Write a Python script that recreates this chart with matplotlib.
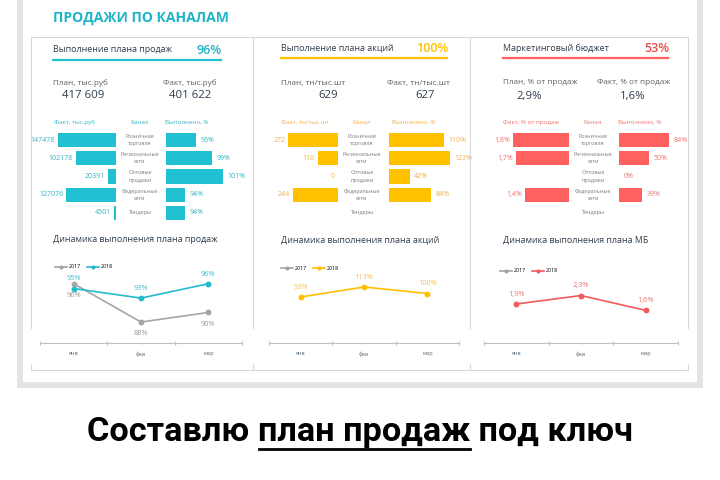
import numpy as np
import matplotlib
matplotlib.use("Agg")
import matplotlib.pyplot as plt
from matplotlib.lines import Line2D
from matplotlib.patches import Rectangle

plt.rcParams['font.family'] = ['Open Sans', 'DejaVu Sans']

# ---------------- data ----------------
channels = ["Розничная\nторговля", "Региональные\nсети", "Оптовые\nпродажи",
            "Федеральные\nсети", "Тендеры"]
months = ["янв", "фев", "мар"]
years = ["2017", "2018"]

panel_titles = ["Выполнение плана продаж", "Выполнение плана акций", "Маркетинговый бюджет"]
kpi_pct = [0.96, 1.00, 0.53]
plan_labels = ["План, тыс.руб", "План, тн/тыс.шт", "План, % от продаж"]
fact_labels = ["Факт, тыс.руб", "Факт, тн/тыс.шт", "Факт, % от продаж"]
plan_values = [417609, 629, 0.029]
fact_values = [401622, 627, 0.016]

sales_fact = [147478, 102178, 20391, 127076, 4501]
sales_done = [0.96, 0.99, 1.01, 0.94, 0.94]
promo_fact = [272, 110, 0, 244, np.nan]
promo_done = [1.10, 1.23, 0.42, 0.84, np.nan]
mkt_fact = [0.018, 0.017, np.nan, 0.014, np.nan]
mkt_done = [0.84, 0.50, 0.00, 0.39, np.nan]

line_titles = ["Динамика выполнения плана продаж", "Динамика выполнения плана акций",
               "Динамика выполнения плана МБ"]
sales_2017 = [96, 88, 90]
sales_2018 = [95, 93, 96]
promo_2017 = [np.nan, np.nan, np.nan]
promo_2018 = [93, 113, 100]
mkt_2017 = [np.nan, np.nan, np.nan]
mkt_2018 = [1.9, 2.3, 1.6]

caption_parts = ["Составлю ", "план продаж", " под ключ"]

# ---------------- helpers ----------------
W, H = 720, 480
fig = plt.figure(figsize=(7.2, 4.8), dpi=100)

def fx(x):
    return x / W

def fy(y):
    return 1 - y / H

def T(x, y, s, **kw):
    kw.setdefault('va', 'center')
    return fig.text(fx(x), fy(y), s, **kw)

def axpx(x0, y0, x1, y1):
    return fig.add_axes([fx(x0), fy(y1), (x1 - x0) / W, (y1 - y0) / H])

def hline(x0, x1, y, color, lw=0.8):
    fig.add_artist(Line2D([fx(x0), fx(x1)], [fy(y), fy(y)], color=color, lw=lw,
                          transform=fig.transFigure))

def vline(x, y0, y1, color, lw=0.8):
    fig.add_artist(Line2D([fx(x), fx(x)], [fy(y0), fy(y1)], color=color, lw=lw,
                          transform=fig.transFigure))

def fmt_pct(v, dec=0):
    s = f"{v * 100:.{dec}f}%"
    return s.replace('.', ',')

# ---------------- frame ----------------
fig.add_artist(Rectangle((fx(17), fy(388)), 686 / W, 388 / H, transform=fig.transFigure,
                         facecolor="#e4e4e4", edgecolor='none', zorder=-5))
fig.add_artist(Rectangle((fx(23), fy(382)), 674 / W, 382 / H, transform=fig.transFigure,
                         facecolor="white", edgecolor='none', zorder=-4))

border = "#d9d9d9"
hline(31, 688, 37, border)
for xb in [31, 253, 470, 688]:
    vline(xb, 37, 328, border)
    vline(xb, 364, 370, border)
hline(31, 688, 370, border)

T(53, 18, "ПРОДАЖИ ПО КАНАЛАМ", color="#1CB5C8", fontsize=10, fontweight='bold')

# ---------------- panels ----------------
teal, yellow, red = "#22C1D2", "#FFC000", "#FF6161"
main_cols = [teal, yellow, red]
kpi_cols = ["#1FB3C6", "#FFC000", "#EA4A4A"]
lbl_cols = ["#33B4C6", "#EEB04A", "#F07272"]
dark = "#2E3D4C"
gray_txt = "#5F5F5F"
chan_col = "#7A7A7A"

px0 = [53, 281, 503]
px1 = [221, 447, 668]
plan_cx = [83, 328, 529]
fact_cx = [190, 425, 633]
fact_lx = [163, 387, 597]
hdr_y = [50, 48, 48]
ul_y = [60, 58, 58]

for i in range(3):
    T(px0[i], hdr_y[i], panel_titles[i], color=dark, fontsize=6.4)
    T(px1[i] + 1, hdr_y[i], fmt_pct(kpi_pct[i]), color=kpi_cols[i], fontsize=9,
      fontweight='semibold', ha='right')
    hline(px0[i], px1[i], ul_y[i], main_cols[i], lw=1.6)
    T(px0[i], 83, plan_labels[i], color=gray_txt, fontsize=5.9)
    T(fact_lx[i], 83, fact_labels[i], color=gray_txt, fontsize=5.9)
    if i == 0:
        pv = f"{plan_values[i]:,}".replace(',', ' ')
        fv = f"{fact_values[i]:,}".replace(',', ' ')
    elif i == 1:
        pv, fv = str(plan_values[i]), str(fact_values[i])
    else:
        pv, fv = fmt_pct(plan_values[i], 1), fmt_pct(fact_values[i], 1)
    T(plan_cx[i], 96, pv, color=dark, fontsize=8.2, ha='center')
    T(fact_cx[i], 96, fv, color=dark, fontsize=8.2, ha='center')

hdr_fact_cx = [75, 305, 531]
hdr_chan_cx = [140, 362, 593]
hdr_done_cx = [187, 414, 640]
for i in range(3):
    T(hdr_fact_cx[i], 122, fact_labels[i], color=lbl_cols[i], fontsize=4.5, ha='center')
    T(hdr_chan_cx[i], 122, "Канал", color=lbl_cols[i], fontsize=4.5, ha='center')
    T(hdr_done_cx[i], 122, "Выполнено, %", color=lbl_cols[i], fontsize=4.5, ha='center')

row_top, row_bot = 131, 222
n = len(channels)
ypos = np.arange(n)

def bar_axes(x0, x1, xlim, invert):
    ax = axpx(x0, row_top, x1, row_bot)
    ax.set_ylim(n - 0.5, -0.5)
    if invert:
        ax.set_xlim(xlim[1], xlim[0])
    else:
        ax.set_xlim(*xlim)
    ax.axis('off')
    ax.patch.set_alpha(0)
    return ax

left_specs = [(30, 116, (0, 86 * 147478 / 58)),
              (262, 338, (0, 76 * 272 / 50)),
              (495, 569, (0, 74 * 0.018 / 56))]
right_specs = [(166, 246, (0.904, 0.904 + 80 / 540)),
               (389, 466, (0, 77 / 50)),
               (619, 687, (0, 68 / 60))]
facts = [sales_fact, promo_fact, mkt_fact]
dones = [sales_done, promo_done, mkt_done]

for i in range(3):
    axl = bar_axes(*left_specs[i][:2], left_specs[i][2], True)
    vals = np.array(facts[i], dtype=float)
    axl.barh(ypos, np.nan_to_num(vals), height=0.77, color=main_cols[i])
    for j, v in enumerate(vals):
        if np.isnan(v):
            continue
        s = fmt_pct(v, 1) if i == 2 else f"{int(v)}"
        axl.annotate(s, (v, j), xytext=(-2, 0), textcoords='offset points',
                     ha='right', va='center', fontsize=5, color=lbl_cols[i],
                     annotation_clip=False)
    axr = bar_axes(*right_specs[i][:2], right_specs[i][2], False)
    vals = np.array(dones[i], dtype=float)
    axr.barh(ypos, np.nan_to_num(vals), height=0.77, color=main_cols[i])
    for j, v in enumerate(vals):
        if np.isnan(v):
            continue
        axr.annotate(fmt_pct(v), (max(v, right_specs[i][2][0]), j), xytext=(3, 0),
                     textcoords='offset points', ha='left', va='center', fontsize=5,
                     color=lbl_cols[i], annotation_clip=False)
    for j, c in enumerate(channels):
        yy = row_top + (row_bot - row_top) * (j + 0.5) / n
        T(hdr_chan_cx[i], yy, c, color=chan_col, fontsize=3.9, ha='center',
          linespacing=1.5)

# ---------------- line charts ----------------
line_specs = [
    dict(x0=40, x1=242, v_a=93, y_a=298.1, k=4.79, title_x=53, leg=(55, 267)),
    dict(x0=269, x1=459, v_a=93, y_a=297, k=0.5, title_x=281, leg=(281, 268)),
    dict(x0=484, x1=678, v_a=1.933, y_a=303.3, k=21.2, title_x=503, leg=(500, 271)),
]
series17 = [sales_2017, promo_2017, mkt_2017]
series18 = [sales_2018, promo_2018, mkt_2018]
gray_line = "#A5A5A5"
line_cols = ["#22BCCD", "#FFC000", "#F05A5A"]
pt_lbl_cols = ["#44BACB", "#F0BE55", "#EE7070"]
ax_top, ax_bot = 255, 343

for i in range(3):
    sp = line_specs[i]
    T(sp['title_x'], 240, line_titles[i], color=dark, fontsize=6.4)
    ax = axpx(sp['x0'], ax_top, sp['x1'], ax_bot)
    ax.patch.set_alpha(0)
    vtop = sp['v_a'] + (sp['y_a'] - ax_top) / sp['k']
    vbot = sp['v_a'] - (ax_bot - sp['y_a']) / sp['k']
    ax.set_ylim(vbot, vtop)
    ax.set_xlim(-0.5, 2.5)
    xs = np.arange(3)
    h17, = ax.plot(xs, series17[i], color=gray_line, lw=1.2, marker='o', ms=3.2,
                   label=years[0], clip_on=False)
    h18, = ax.plot(xs, series18[i], color=line_cols[i], lw=1.2, marker='o', ms=3.2,
                   label=years[1], clip_on=False)
    for j, v in enumerate(series17[i]):
        if np.isnan(v):
            continue
        ax.annotate(f"{v:g}%", (j, v), xytext=(0, -8.5), textcoords='offset points',
                    ha='center', va='center', fontsize=5.3, color="#9A9A9A",
                    annotation_clip=False)
    for j, v in enumerate(series18[i]):
        if np.isnan(v):
            continue
        s = (f"{v:.1f}%".replace('.', ',') if i == 2 else f"{v:g}%")
        ax.annotate(s, (j, v), xytext=(0, 7), textcoords='offset points',
                    ha='center', va='center', fontsize=5.3, color=pt_lbl_cols[i],
                    annotation_clip=False)
    for s in ['top', 'right', 'left']:
        ax.spines[s].set_visible(False)
    ax.spines['bottom'].set_color("#BFBFBF")
    ax.spines['bottom'].set_linewidth(0.8)
    ax.set_yticks([])
    ax.set_xticks(xs)
    ax.set_xticklabels(months, fontsize=4, color="#5A6B7A")
    ax.tick_params(axis='x', which='major', length=0, pad=6)
    ax.set_xticks([-0.5, 0.5, 1.5, 2.5], minor=True)
    ax.tick_params(axis='x', which='minor', length=3, direction='inout',
                   color="#BFBFBF", width=0.8)
    lx, ly = sp['leg']
    ax.legend(handles=[h17, h18], loc='center left',
              bbox_to_anchor=(fx(lx), fy(ly)), bbox_transform=fig.transFigure,
              ncol=2, frameon=False, fontsize=3.9, handlelength=2.2,
              handletextpad=0.3, columnspacing=1.2, borderpad=0, borderaxespad=0,
              markerscale=0.6)

# ---------------- caption ----------------
cap_y = 432
target_w = 544
cap_family = ['Roboto', 'DejaVu Sans']
fig.canvas.draw()
renderer = fig.canvas.get_renderer()

def measure(size):
    ts = [fig.text(0, 0, p.replace(' ', '\u00a0'), fontsize=size, fontweight='bold',
                   family=cap_family) for p in caption_parts]
    ws = [t.get_window_extent(renderer).width for t in ts]
    for t in ts:
        t.remove()
    return ws

w20 = measure(20)
size = 20 * target_w / sum(w20)
widths = measure(size)
xcur = (W - sum(widths)) / 2
for p, w in zip(caption_parts, widths):
    T(xcur, cap_y, p.replace(' ', '\u00a0'), ha='left', fontsize=size,
      fontweight='bold', color='black', family=cap_family)
    if p == "план продаж":
        hline(xcur + 1, xcur + w, cap_y + 17, 'black', lw=2)
    xcur += w

fig.savefig("out.png", dpi=100, facecolor='white')
